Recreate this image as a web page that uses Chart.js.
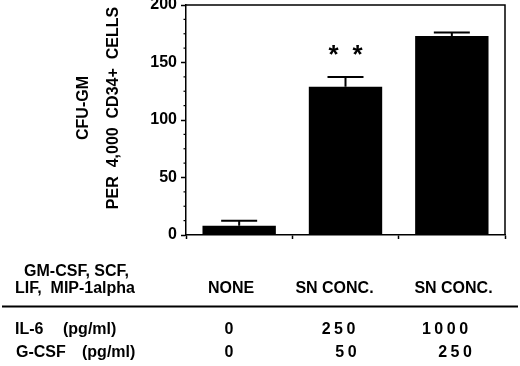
<!DOCTYPE html>
<html><head><meta charset="utf-8">
<script src="https://cdn.jsdelivr.net/npm/chart.js@4.4.0/dist/chart.umd.min.js"></script>
<style>html,body{margin:0;padding:0;background:#fff}#wrap{width:520px;height:366px}</style>
</head><body><div id="wrap"><canvas id="c" width="520" height="366"></canvas></div>
<script>
const categories = ['NONE', 'SN CONC.', 'SN CONC.'];
const cfuValues = [8, 129, 173];
const cfuErrors = [4.5, 8.5, 3];
const significance = [0, 2, 0];
const yTitleLines = ['CFU-GM', 'PER  4,000  CD34+  CELLS'];
const tableHeader = ['GM-CSF, SCF,', 'LIF,  MIP-1alpha'];
const rowLabels = [['IL-6', '(pg/ml)'], ['G-CSF', '(pg/ml)']];
const il6Values = ['0', '250', '1000'];
const gcsfValues = ['0', '50', '250'];

const FONT = "'Liberation Sans', Arial, Helvetica, sans-serif";

const extras = {
  id: 'extras',
  afterDraw(chart) {
    const ctx = chart.ctx;
    const ca = chart.chartArea;
    const y = chart.scales.y;
    const meta = chart.getDatasetMeta(0);
    ctx.save();
    ctx.strokeStyle = '#000';
    ctx.fillStyle = '#000';
    // top & right frame
    ctx.lineWidth = 1.5;
    ctx.beginPath();
    ctx.moveTo(ca.left, ca.top); ctx.lineTo(ca.right, ca.top); ctx.lineTo(ca.right, ca.bottom);
    ctx.stroke();
    // minor ticks
    ctx.lineWidth = 1.2;
    for (let v = 12.5; v < 200; v += 12.5) {
      if (v % 50 === 0) continue;
      const py = y.getPixelForValue(v);
      ctx.beginPath(); ctx.moveTo(ca.left - 2.5, py); ctx.lineTo(ca.left, py); ctx.stroke();
    }
    // error bars
    ctx.lineWidth = 2;
    meta.data.forEach((el, i) => {
      const x = el.x;
      const y0 = y.getPixelForValue(cfuValues[i]);
      const y1 = y.getPixelForValue(cfuValues[i] + cfuErrors[i]);
      ctx.beginPath();
      ctx.moveTo(x, y0); ctx.lineTo(x, y1);
      ctx.moveTo(x - 18, y1); ctx.lineTo(x + 18, y1);
      ctx.stroke();
      // significance stars
      if (significance[i] > 0) {
        ctx.font = 'bold 26px ' + FONT;
        ctx.textAlign = 'center';
        ctx.textBaseline = 'alphabetic';
        const n = significance[i];
        for (let k = 0; k < n; k++) {
          const sx = x + (k - (n - 1) / 2) * 24;
          ctx.fillText('*', sx, y1 - 14);
        }
      }
    });
    // y title
    ctx.font = 'bold 16px ' + FONT;
    ctx.textAlign = 'center';
    ctx.textBaseline = 'middle';
    const titleX = [83.5, 114];
    yTitleLines.forEach((t, i) => {
      ctx.save();
      ctx.translate(titleX[i], 108);
      ctx.rotate(-Math.PI / 2);
      ctx.fillText(t, 0, 0);
      ctx.restore();
    });
    // table
    ctx.font = 'bold 16px ' + FONT;
    ctx.textBaseline = 'alphabetic';
    ctx.textAlign = 'center';
    ctx.fillText(tableHeader[0], 76.5, 276);
    ctx.fillText(tableHeader[1], 75, 292.5);
    const colX = [231, 334.5, 453.5];
    categories.forEach((c, i) => ctx.fillText(c, colX[i], 292.5));
    ctx.lineWidth = 2;
    ctx.beginPath(); ctx.moveTo(2, 306.5); ctx.lineTo(518, 306.5); ctx.stroke();
    ctx.textAlign = 'left';
    ctx.fillText(rowLabels[0][0], 15, 334);
    ctx.fillText(rowLabels[0][1], 63, 334);
    ctx.fillText(rowLabels[1][0], 16, 356.5);
    ctx.fillText(rowLabels[1][1], 82, 356.5);
    const sp = 3.5;
    function spaced(t, cx, by) {
      ctx.letterSpacing = sp + 'px';
      const w = ctx.measureText(t).width - sp;
      ctx.fillText(t, cx - w / 2, by);
      ctx.letterSpacing = '0px';
    }
    const il6X = [229, 338.5, 445];
    const gX = [229, 346, 455];
    il6Values.forEach((t, i) => spaced(t, il6X[i], 334));
    gcsfValues.forEach((t, i) => spaced(t, gX[i], 356.5));
    ctx.restore();
  }
};

new Chart(document.getElementById('c'), {
  type: 'bar',
  data: {
    labels: categories,
    datasets: [{
      data: cfuValues,
      backgroundColor: '#000',
      borderWidth: 0,
      barPercentage: 0.69,
      categoryPercentage: 1
    }]
  },
  options: {
    responsive: false,
    animation: false,
    devicePixelRatio: 1,
    layout: { padding: { top: 5, right: 15, left: 0, bottom: 0 } },
    plugins: { legend: { display: false }, tooltip: { enabled: false } },
    scales: {
      x: {
        grid: { display: true, drawOnChartArea: false, drawTicks: true, tickLength: 4, tickColor: '#000', tickWidth: 1.5, offset: true },
        border: { display: true, color: '#000', width: 1.5 },
        ticks: { display: false },
        afterFit(s) { s.height = 131; s.paddingLeft = 0; s.paddingRight = 0; }
      },
      y: {
        min: 0, max: 200,
        ticks: { stepSize: 50, color: '#000', padding: 4, font: { family: FONT, size: 16, weight: 'bold' } },
        grid: { drawOnChartArea: false, tickLength: 5, tickColor: '#000', tickWidth: 1.5 },
        border: { display: true, color: '#000', width: 1.5 },
        afterFit(s) { s.width = 186; s.paddingTop = 0; s.paddingBottom = 0; }
      }
    }
  },
  plugins: [extras]
});
</script>
</body></html>
